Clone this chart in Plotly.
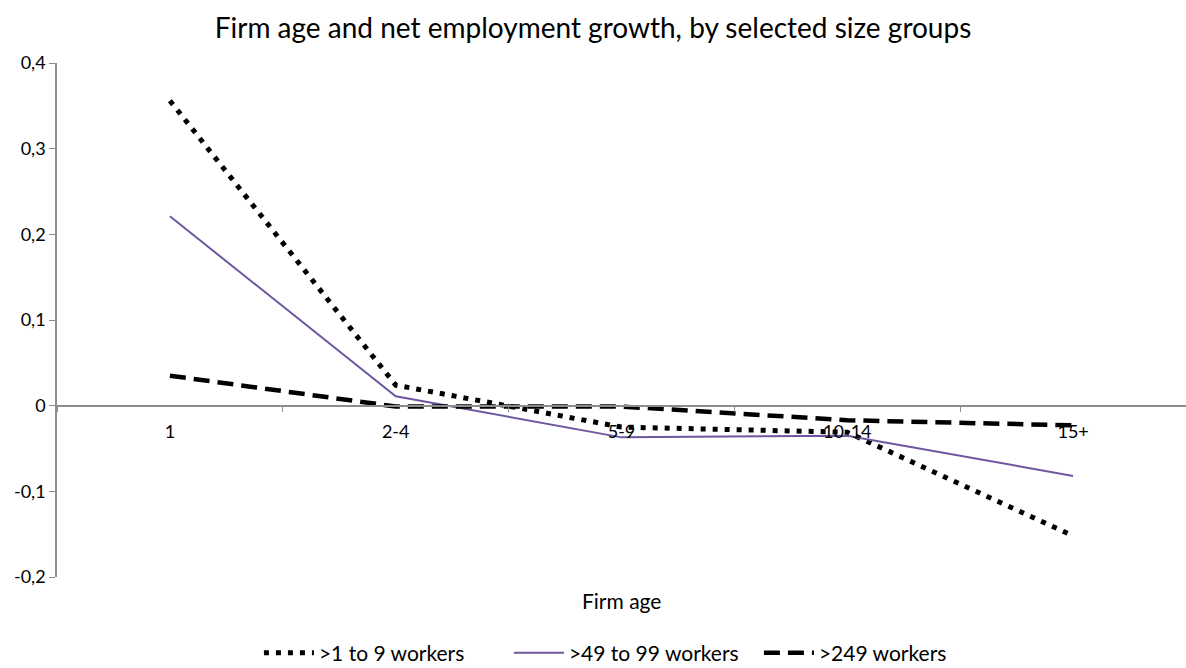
import plotly.graph_objects as go

categories = ["1", "2-4", "5-9", "10-14", "15+"]
small_firms = [0.356, 0.024, -0.025, -0.031, -0.152]
mid_firms = [0.221, 0.011, -0.037, -0.035, -0.082]
large_firms = [0.035, -0.001, -0.001, -0.017, -0.023]

series_names = [">1 to 9 workers", ">49 to 99 workers", ">249 workers"]
y_tickvals = [-0.2, -0.1, 0, 0.1, 0.2, 0.3, 0.4]
y_ticktext = ["-0,2", "-0,1", "0", "0,1", "0,2", "0,3", "0,4"]

FONT = "Lato, Carlito, Calibri, sans-serif"
AXIS_GRAY = "#8c8c8c"

fig = go.Figure()
fig.add_trace(go.Scatter(x=categories, y=small_firms, name=series_names[0], mode="lines",
                         line=dict(color="black", width=5, dash="5px,7px")))
fig.add_trace(go.Scatter(x=categories, y=mid_firms, name=series_names[1], mode="lines",
                         line=dict(color="#6f57a0", width=2)))
fig.add_trace(go.Scatter(x=categories, y=large_firms, name=series_names[2], mode="lines",
                         line=dict(color="black", width=4.5, dash="16px,8px")))

fig.update_layout(
    width=1186, height=668,
    margin=dict(l=57, r=0, t=63, b=91),
    paper_bgcolor="white", plot_bgcolor="white",
    font=dict(family=FONT, color="black"),
    title=dict(text="Firm age and net employment growth, by selected size groups",
               x=0.5, xref="container", xanchor="center",
               y=1 - 28 / 668, yref="container", yanchor="middle",
               font=dict(size=28, family=FONT, color="black")),
    showlegend=True,
    legend=dict(orientation="h", xref="paper", x=0.511, xanchor="center",
                yref="container", y=1 - 653 / 668, yanchor="middle",
                font=dict(size=21, family=FONT, color="black"),
                itemwidth=50, entrywidth=185, entrywidthmode="pixels",
                traceorder="normal"),
    xaxis=dict(type="category", range=[-0.5, 4.5], anchor="free", position=1 / 3,
               showline=True, linecolor=AXIS_GRAY, linewidth=1.5,
               ticks="outside", tickson="boundaries", ticklen=6, tickcolor=AXIS_GRAY,
               ticklabelstandoff=10,
               showgrid=False, zeroline=False,
               tickfont=dict(size=18, family=FONT, color="black")),
    yaxis=dict(range=[-0.2, 0.4], domain=[0, 1], tickvals=y_tickvals, ticktext=y_ticktext,
               showline=True, linecolor=AXIS_GRAY, linewidth=1.5,
               ticks="outside", ticklen=6, tickcolor=AXIS_GRAY,
               showgrid=False, zeroline=False,
               tickfont=dict(size=18, family=FONT, color="black")),
    annotations=[dict(text="Firm age", xref="paper", x=0.5, yref="paper",
                      y=-(600 - 577) / 514, xanchor="center", yanchor="middle",
                      showarrow=False, font=dict(size=21, family=FONT, color="black"))],
)

fig.write_html("out.html")
